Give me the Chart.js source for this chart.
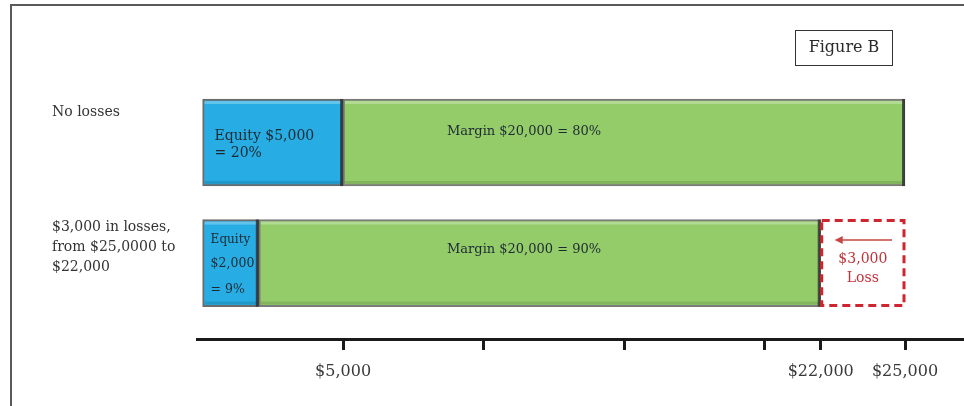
<!DOCTYPE html>
<html>
<head>
<meta charset="utf-8">
<script src="https://cdn.jsdelivr.net/npm/chart.js@4.4.0/dist/chart.umd.min.js"></script>
<style>
  html, body { margin: 0; padding: 0; background: #fff; }
  #wrap { position: relative; width: 964px; height: 406px; overflow: hidden; }
  #frame { position: absolute; left: 10px; top: 4px; width: 960px; height: 410px;
           border-top: 2px solid #5a5a5a; border-left: 2px solid #5a5a5a; }
  canvas { position: absolute; left: 0; top: 0; }
</style>
</head>
<body>
<div id="wrap">
  <div id="frame"></div>
  <canvas id="chart" width="964" height="406"></canvas>
</div>
<script>
// rows (top to bottom) and their labels
const rowLabels = [['No losses'], ['$3,000 in losses,', 'from $25,0000 to', '$22,000']];
const equity = [5000, 2000];
const margin = [20000, 20000];
const loss = [0, 3000];

const equityText = [['Equity $5,000', '= 20%'], ['Equity', '$2,000', '= 9%']];
const marginText = ['Margin $20,000 = 80%', 'Margin $20,000 = 90%'];
const lossText = ['$3,000', 'Loss'];

const tickValues = [5000, 10000, 15000, 20000, 22000, 25000];
const tickLabels = ['$5,000', '', '', '', '$22,000', '$25,000'];

const SERIF = '"DejaVu Serif", "Liberation Serif", serif';

function rowData(values) {
  return values.map((v, i) => ({ x: v, y: i }));
}

const extras = {
  id: 'extras',
  afterDatasetsDraw(chart) {
    const ctx = chart.ctx;
    const xs = chart.scales.x;

    // bevel look on equity and margin bars
    [0, 1].forEach(di => {
      chart.getDatasetMeta(di).data.forEach(bar => {
        const p = bar.getProps(['x', 'y', 'base', 'height'], true);
        const l = p.base, r = p.x, t = p.y - p.height / 2, b = p.y + p.height / 2;
        ctx.save();
        ctx.fillStyle = 'rgba(255,255,255,0.28)';
        ctx.fillRect(l + 2, t + 2, r - l - 4, 3);
        ctx.fillStyle = 'rgba(0,0,0,0.12)';
        ctx.fillRect(l + 2, b - 5, r - l - 4, 3);
        ctx.fillStyle = 'rgba(40,40,40,0.75)';
        ctx.fillRect(r - 3, t, 3, b - t);
        ctx.restore();
      });
    });

    // dashed loss box
    chart.getDatasetMeta(2).data.forEach((bar, i) => {
      if (!loss[i]) return;
      const p = bar.getProps(['x', 'y', 'base', 'height'], true);
      const t = p.y - p.height / 2, h = p.height;
      ctx.save();
      ctx.strokeStyle = '#cf2530';
      ctx.lineWidth = 3;
      ctx.setLineDash([8, 5]);
      ctx.strokeRect(p.base + 1, t + 1, p.x - p.base - 2, h - 2);
      ctx.setLineDash([]);
      // arrow pointing left
      const ay = p.y - 23;
      ctx.strokeStyle = '#c8453f';
      ctx.fillStyle = '#c8453f';
      ctx.lineWidth = 1.5;
      ctx.beginPath();
      ctx.moveTo(p.x - 13, ay);
      ctx.lineTo(p.base + 20, ay);
      ctx.stroke();
      ctx.beginPath();
      ctx.moveTo(p.base + 14, ay);
      ctx.lineTo(p.base + 22, ay - 4);
      ctx.lineTo(p.base + 22, ay + 4);
      ctx.closePath();
      ctx.fill();
      ctx.fillStyle = '#c0323a';
      ctx.font = '14px ' + SERIF;
      ctx.textAlign = 'center';
      ctx.textBaseline = 'middle';
      const cx = (p.base + p.x) / 2;
      ctx.fillText(lossText[0], cx, p.y - 4);
      ctx.fillText(lossText[1], cx, p.y + 15);
      ctx.restore();
    });

    ctx.save();
    ctx.textBaseline = 'middle';
    ctx.textAlign = 'left';

    // text inside equity bars
    const eqMeta = chart.getDatasetMeta(0).data;
    const e0 = eqMeta[0].getProps(['x', 'y', 'base'], true);
    ctx.fillStyle = '#1e2a33';
    ctx.font = '14px ' + SERIF;
    ctx.fillText(equityText[0][0], e0.base + 12, e0.y - 6);
    ctx.fillText(equityText[0][1], e0.base + 12, e0.y + 11);
    const e1 = eqMeta[1].getProps(['x', 'y', 'base'], true);
    ctx.font = '12px ' + SERIF;
    ctx.fillText(equityText[1][0], e1.base + 8, e1.y - 23);
    ctx.font = '12.5px ' + SERIF;
    ctx.fillText(equityText[1][1], e1.base + 8, e1.y + 1);
    ctx.fillText(equityText[1][2], e1.base + 8, e1.y + 27);

    // text inside margin bars
    ctx.font = '13px ' + SERIF;
    const mx = xs.getPixelForValue(8700);
    chart.getDatasetMeta(1).data.forEach((bar, i) => {
      const p = bar.getProps(['y'], true);
      ctx.fillText(marginText[i], mx, p.y - (i === 0 ? 11 : 13));
    });

    // row labels on the left
    ctx.fillStyle = '#333';
    ctx.font = '14px ' + SERIF;
    const rows = chart.getDatasetMeta(0).data.map(b => b.getProps(['y'], true).y);
    ctx.fillText(rowLabels[0][0], 52, rows[0] - 30);
    rowLabels[1].forEach((line, k) => {
      ctx.fillText(line, 52, rows[1] - 36 + k * 20);
    });

    // "Figure B" box
    ctx.strokeStyle = '#333';
    ctx.lineWidth = 1;
    ctx.strokeRect(795.5, 30.5, 97, 35);
    ctx.fillStyle = '#2a2a2a';
    ctx.font = '16px ' + SERIF;
    ctx.textAlign = 'center';
    ctx.fillText('Figure B', 844, 48);
    ctx.restore();
  }
};

new Chart(document.getElementById('chart'), {
  type: 'bar',
  data: {
    datasets: [
      {
        label: 'Equity',
        data: rowData(equity),
        backgroundColor: '#27ade4',
        borderColor: '#6b6b6b',
        borderWidth: 2,
        borderSkipped: false,
        barThickness: 87
      },
      {
        label: 'Margin',
        data: rowData(margin),
        backgroundColor: '#94cc6a',
        borderColor: '#7a7a7a',
        borderWidth: 2,
        borderSkipped: false,
        barThickness: 87
      },
      {
        label: 'Loss',
        data: rowData(loss),
        backgroundColor: 'rgba(255,255,255,0)',
        borderWidth: 0,
        barThickness: 87
      }
    ]
  },
  options: {
    indexAxis: 'y',
    responsive: false,
    animation: false,
    layout: { padding: { left: 197, top: 22, right: 0, bottom: 0 } },
    plugins: {
      legend: { display: false },
      tooltip: { enabled: false }
    },
    scales: {
      y: {
        type: 'linear',
        reverse: true,
        offset: false,
        min: -1,
        max: 1.63,
        stacked: true,
        display: false
      },
      x: {
        type: 'linear',
        min: -200,
        max: 27100,
        stacked: true,
        afterFit: s => { s.height = 67; },
        afterBuildTicks: s => { s.ticks = tickValues.map(v => ({ value: v })); },
        border: { display: true, width: 3, color: '#1a1a1a' },
        grid: {
          drawOnChartArea: false,
          drawTicks: true,
          tickLength: 11,
          tickWidth: 3,
          tickColor: '#1a1a1a'
        },
        ticks: {
          autoSkip: false,
          maxRotation: 0,
          padding: 12,
          color: '#3a3a3a',
          font: { family: SERIF, size: 16 },
          callback: (v, i) => tickLabels[i]
        }
      }
    }
  },
  plugins: [extras]
});
</script>
</body>
</html>
